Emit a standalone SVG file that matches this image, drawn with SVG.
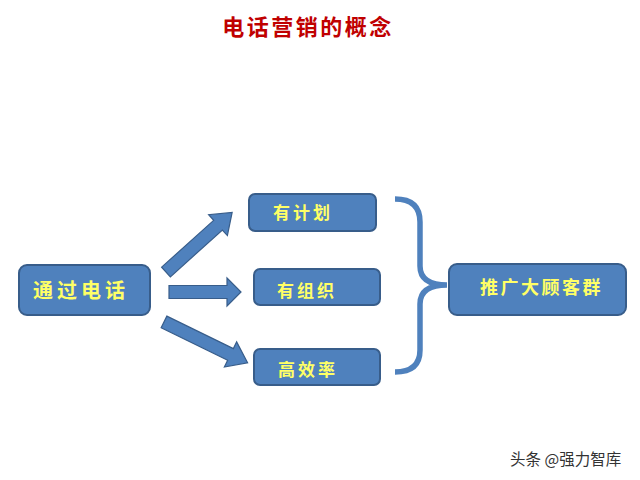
<svg xmlns="http://www.w3.org/2000/svg" width="640" height="480" viewBox="0 0 640 480">
<style>
.box{fill:#4F81BD;stroke:#385D8A;stroke-width:2}
.lbl{fill:#FFFF66;font-family:"Noto Sans CJK SC","Noto Sans",sans-serif;font-weight:bold}
.arr{fill:#4F81BD;stroke:#385D8A;stroke-width:1.2}
</style>
<rect width="640" height="480" fill="#ffffff"/>
<text x="308" y="35" text-anchor="middle" font-family="'Noto Sans CJK SC',sans-serif" font-weight="bold" font-size="22" letter-spacing="2.5" fill="#C00000">电话营销的概念</text>
<g id="connectors">
<polygon class="arr" points="0,-6.5 70,-6.5 70,-14 89,0 70,14 70,6.5 0,6.5" transform="translate(166,272) rotate(-42)"/>
<polygon class="arr" points="0,-6.5 58,-6.5 58,-14 72,0 58,14 58,6.5 0,6.5" transform="translate(169,292)"/>
<polygon class="arr" points="0,-6.5 74,-6.5 74,-14 93,0 74,14 74,6.5 0,6.5" transform="translate(164,322) rotate(26)"/>
<path d="M395,199 Q420,199 420,222 L420,266 Q420,285 447,285 Q420,285 420,304 L420,350 Q420,372 395,372" fill="none" stroke="#4F81BD" stroke-width="5.5"/>
</g>
<g id="n1"><rect class="box" x="19" y="265" width="131" height="50" rx="8"/><text class="lbl" x="33" y="298" font-size="20" letter-spacing="4">通过电话</text></g>
<g id="n2"><rect class="box" x="249" y="194" width="127" height="37" rx="6"/><text class="lbl" x="273" y="219" font-size="17" letter-spacing="3">有计划</text></g>
<g id="n3"><rect class="box" x="254" y="269" width="126" height="36" rx="6"/><text class="lbl" x="277" y="297" font-size="17" letter-spacing="3">有组织</text></g>
<g id="n4"><rect class="box" x="254" y="349" width="126" height="36" rx="6"/><text class="lbl" x="278" y="376" font-size="17" letter-spacing="3">高效率</text></g>
<g id="n5"><rect class="box" x="449" y="264" width="177" height="51" rx="8"/><text class="lbl" x="480" y="294" font-size="18" letter-spacing="2.5">推广大顾客群</text></g>
<text x="510" y="465" font-family="'Noto Sans CJK SC',sans-serif" font-size="15.5" fill="#333333">头条 @强力智库</text>
</svg>
